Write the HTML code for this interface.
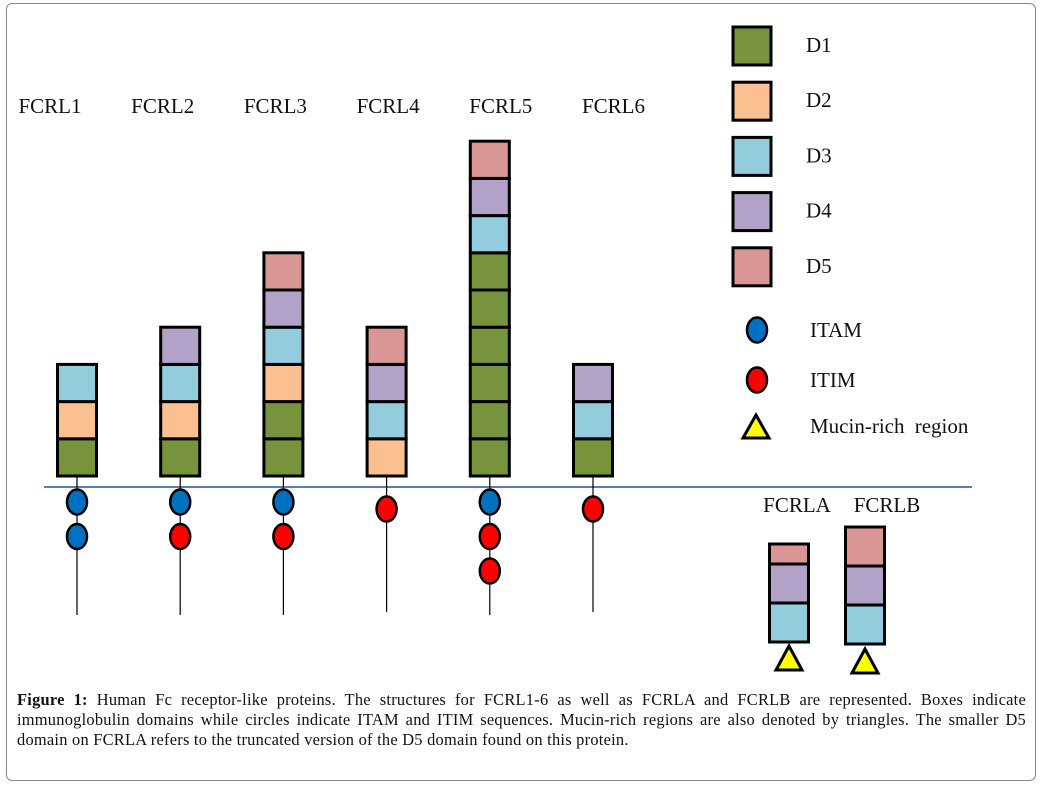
<!DOCTYPE html>
<html><head><meta charset="utf-8"><style>
html,body{margin:0;padding:0;background:#fff;}
#wrap{position:relative;width:1042px;height:787px;overflow:hidden;}
#frame{position:absolute;left:6px;top:3px;width:1030px;height:778px;border:1.5px solid #888;border-radius:6px;box-sizing:border-box;}
#cap{position:absolute;left:17px;top:690px;width:1009px;font-family:"Liberation Serif",serif;font-size:16.4px;letter-spacing:0.25px;line-height:20px;text-align:justify;color:#111;}
svg{position:absolute;left:0;top:0;}
</style></head><body>
<div id="wrap">
<div id="frame"></div>
<svg id="svg" width="1042" height="787"></svg>
<div id="cap"><b>Figure 1:</b> Human Fc receptor-like proteins. The structures for FCRL1-6 as well as FCRLA and FCRLB are represented. Boxes indicate immunoglobulin domains while circles indicate ITAM and ITIM sequences. Mucin-rich regions are also denoted by triangles. The smaller D5 domain on FCRLA refers to the truncated version of the D5 domain found on this protein.</div>
</div>
<script>
const proteins=["FCRL1","FCRL2","FCRL3","FCRL4","FCRL5","FCRL6"];
const domains=[["D1","D2","D3"],["D1","D2","D3","D4"],["D1","D1","D2","D3","D4","D5"],["D2","D3","D4","D5"],["D1","D1","D1","D1","D1","D1","D3","D4","D5"],["D1","D3","D4"]];
const motifs=[["ITAM","ITAM"],["ITAM","ITIM"],["ITAM","ITIM"],["ITIM"],["ITAM","ITIM","ITIM"],["ITIM"]];
const secreted=["FCRLA","FCRLB"];
const secDomains=[["D3","D4","D5s"],["D3","D4","D5"]];
const legendDomains=["D1","D2","D3","D4","D5"];
const colors={D1:"#77933C",D2:"#FAC090",D3:"#93CDDD",D4:"#B3A2C7",D5:"#D99694",D5s:"#D99694",ITAM:"#0070C0",ITIM:"#FF0000"};
const NS="http://www.w3.org/2000/svg";
const svg=document.getElementById('svg');
function mk(tag,attrs,parent){const e=document.createElementNS(NS,tag);for(const k in attrs)e.setAttribute(k,attrs[k]);(parent||svg).appendChild(e);return e;}
const colX=i=>77+i*103.2;
const labX=i=>50+i*112.7;
const boxH=37.2, boxW=39, baseY=476, memY=487;
const txt={"font-family":"Liberation Serif, serif","font-size":"21","fill":"#111"};
let m=mk('line',{x1:44,y1:memY,x2:972,y2:memY,stroke:"#4F81BD","stroke-width":2});


proteins.forEach((p,i)=>{
  const cx=colX(i);
  const g=mk('g',{});
  
  
  const n=motifs[i].length;
  mk('line',{x1:cx,y1:baseY,x2:cx,y2:n>1?615:612,stroke:"#000","stroke-width":1.2},g);
  domains[i].forEach((d,j)=>{
    const r=mk('rect',{x:cx-boxW/2,y:baseY-(j+1)*boxH,width:boxW,height:boxH,fill:colors[d],stroke:"#000","stroke-width":3},g);
    
    
  });
  motifs[i].forEach((mo,j)=>{
    const cy=(n===1?509:502)+j*34.5;
    const e=mk('ellipse',{cx:cx,cy:cy,rx:10,ry:12.5,fill:colors[mo],stroke:"#000","stroke-width":2.5},g);
    
    
  });
  const t=mk('text',Object.assign({x:labX(i),y:113,"text-anchor":"middle"},txt),g);
  t.textContent=p;
  
  
});
const secX=[789,865];
secreted.forEach((p,i)=>{
  const cx=secX[i];
  const g=mk('g',{});
  
  
  let y=644-(i?0:2);
  secDomains[i].forEach(d=>{
    const h=d==="D5s"?20:39;
    y-=h;
    const r=mk('rect',{x:cx-boxW/2,y:y,width:boxW,height:h,fill:colors[d],stroke:"#000","stroke-width":3},g);
    
    
  });
  const ty=i?649:646;
  const tr=mk('polygon',{points:`${cx},${ty} ${cx-13},${ty+24} ${cx+13},${ty+24}`,fill:"#FFFF00",stroke:"#000","stroke-width":3},g);
  
  
  const t=mk('text',Object.assign({x:i?887:797,y:512,"text-anchor":"middle"},txt),g);
  t.textContent=p;
  
  
});
const lg=mk('g',{});


legendDomains.forEach((d,j)=>{
  const y=27+j*55.2;
  const r=mk('rect',{x:733,y:y,width:38,height:38,fill:colors[d],stroke:"#000","stroke-width":3},lg);
  
  
  const t=mk('text',Object.assign({x:806,y:y+25},txt),lg);
  t.textContent=d;
  
  
});
[["ITAM",330],["ITIM",380]].forEach(([k,y])=>{
  const e=mk('ellipse',{cx:757,cy:y,rx:10,ry:12.5,fill:colors[k],stroke:"#000","stroke-width":2.5},lg);
  
  
  const t=mk('text',Object.assign({x:810,y:y+7},txt),lg);
  t.textContent=k;
  
  
});
const lt=mk('polygon',{points:"756,415 743,438 769,438",fill:"#FFFF00",stroke:"#000","stroke-width":3},lg);


const ltt=mk('text',Object.assign({x:810,y:433,"word-spacing":"5"},txt),lg);
ltt.textContent="Mucin-rich region";


</script>
</body></html>
